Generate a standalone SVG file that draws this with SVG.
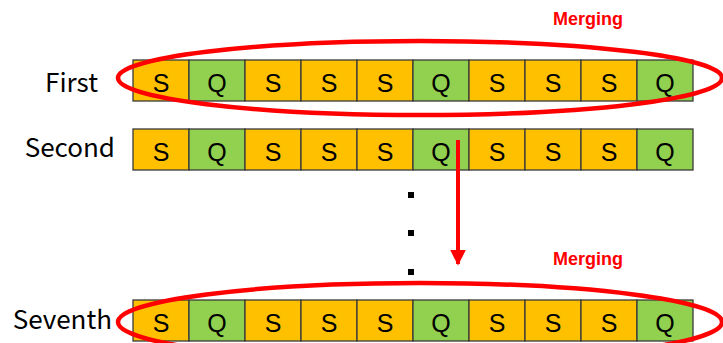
<svg xmlns="http://www.w3.org/2000/svg" width="723" height="343" viewBox="0 0 723 343">
  <defs>
    <style>
      .s { fill: #FFC000; stroke: #3a3a3a; stroke-width: 1.3; }
      .q { fill: #92D050; stroke: #3a3a3a; stroke-width: 1.3; }
      .ct { font-family: "Liberation Sans", "Noto Sans CJK JP", sans-serif; font-size: 25px; fill: #000; text-anchor: middle; }
      .lbl { font-family: "Noto Sans CJK JP", "Liberation Sans", sans-serif; font-size: 26px; fill: #000; text-anchor: end; }
      .merge { font-family: "Liberation Sans", "Noto Sans", sans-serif; font-size: 18px; font-weight: bold; fill: #FF0000; }
      .ring { fill: none; stroke: #FF0000; stroke-width: 4.5; }
    </style>
    <g id="row">
      <rect class="s" x="0" y="0" width="56" height="41"/>
      <rect class="q" x="56" y="0" width="56" height="41"/>
      <rect class="s" x="112" y="0" width="56" height="41"/>
      <rect class="s" x="168" y="0" width="56" height="41"/>
      <rect class="s" x="224" y="0" width="56" height="41"/>
      <rect class="q" x="280" y="0" width="56" height="41"/>
      <rect class="s" x="336" y="0" width="56" height="41"/>
      <rect class="s" x="392" y="0" width="56" height="41"/>
      <rect class="s" x="448" y="0" width="56" height="41"/>
      <rect class="q" x="504" y="0" width="56" height="41"/>
      <text class="ct" x="28" y="32">S</text>
      <text class="ct" x="84" y="32">Q</text>
      <text class="ct" x="140" y="32">S</text>
      <text class="ct" x="196" y="32">S</text>
      <text class="ct" x="252" y="32">S</text>
      <text class="ct" x="308" y="32">Q</text>
      <text class="ct" x="364" y="32">S</text>
      <text class="ct" x="420" y="32">S</text>
      <text class="ct" x="476" y="32">S</text>
      <text class="ct" x="532" y="32">Q</text>
    </g>
    <marker id="head" markerWidth="4" markerHeight="4" refX="3.6" refY="2" orient="auto" markerUnits="strokeWidth">
      <path d="M0,0 L4,2 L0,4 Z" fill="#FF0000"/>
    </marker>
  </defs>

  <g id="row-first">
    <text class="lbl" x="98" y="92">First</text>
    <use href="#row" x="133" y="60"/>
  </g>

  <g id="row-second">
    <text class="lbl" x="115" y="157">Second</text>
    <use href="#row" x="133" y="129"/>
  </g>

  <g id="ellipsis">
    <rect x="408" y="192" width="6" height="6" fill="#000"/>
    <rect x="408" y="230" width="6" height="6" fill="#000"/>
    <rect x="408" y="269" width="6" height="6" fill="#000"/>
  </g>

  <g id="row-seventh">
    <text class="lbl" x="112" y="329">Seventh</text>
    <use href="#row" x="133" y="300"/>
  </g>

  <g id="merge-first">
    <ellipse class="ring" cx="420" cy="78" rx="302" ry="37"/>
    <text class="merge" x="553" y="25">Merging</text>
  </g>

  <g id="merge-seventh">
    <ellipse class="ring" cx="420" cy="322" rx="302" ry="39"/>
    <text class="merge" x="553" y="265">Merging</text>
  </g>

  <g id="connectors">
    <line x1="458" y1="140" x2="458" y2="264" stroke="#FF0000" stroke-width="4" marker-end="url(#head)"/>
  </g>
</svg>
